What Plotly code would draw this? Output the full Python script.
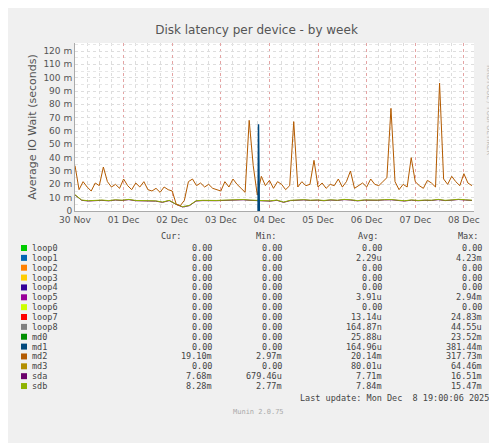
import numpy as np
import pandas as pd
import plotly.graph_objects as go

# md2 latency (ms), one value every 2 hours from 30 Nov 00:00
md2 = [34, 16, 22, 18, 15, 21, 19, 33, 22, 18, 20, 17, 24, 19, 16, 21, 18, 22, 16, 15,
       17, 14, 18, 16, 15, 5, 4, 8, 22, 24, 19, 21, 18, 20, 17, 16, 15, 22, 18, 24,
       20, 17, 14, 68, 34, 12, 26, 19, 23, 17, 22, 20, 16, 19, 67, 18, 22, 19, 20, 38,
       18, 21, 17, 20, 19, 24, 18, 22, 30, 17, 19, 21, 18, 24, 20, 19, 22, 25, 77, 22,
       16, 20, 18, 40, 22, 19, 17, 23, 21, 18, 96, 24, 20, 26, 22, 19, 28, 21, 19]
sda = [12, 8, 7.5, 7.8, 8, 7.6, 8.2, 7.9, 8.5, 7.7, 7.6, 7.2, 7.4, 6.5, 7.8, 5, 3, 4, 7.5, 7.8,
       7.6, 7.7, 7.9, 8.1, 8.6, 8.4, 8.0, 7.8, 7.9, 7.4, 8.0, 6.5, 7.8, 8.0, 8.3, 7.9, 8.1, 7.7, 8.2, 7.9,
       8.5, 8.2, 7.6, 8.1, 7.8, 8.0, 8.3, 8.4, 7.9, 7.5, 8.1, 7.7, 8.0, 7.9, 8.5, 7.8, 8.1, 8.6, 8.2, 7.9]
sdb = [s + 0.2 for s in sda]
md1_spike = [0, 0, 65, 0, 0]

cats = ["loop0", "loop1", "loop2", "loop3", "loop4", "loop5", "loop6", "loop7",
        "loop8", "md0", "md1", "md2", "md3", "sda", "sdb"]
colors = ["#00CC00", "#0066B3", "#FF8000", "#FFCC00", "#330099", "#990099", "#CCFF00",
          "#FF0000", "#808080", "#008F00", "#00487D", "#B35A00", "#B38F00", "#6B006B", "#8FB300"]
cur = ["0.00", "0.00", "0.00", "0.00", "0.00", "0.00", "0.00", "0.00", "0.00", "0.00",
       "0.00", "19.10m", "0.00", "7.68m", "8.28m"]
mins = ["0.00", "0.00", "0.00", "0.00", "0.00", "0.00", "0.00", "0.00", "0.00", "0.00",
        "0.00", "2.97m", "0.00", "679.46u", "2.77m"]
avg = ["0.00", "2.29u", "0.00", "0.00", "0.00", "3.91u", "0.00", "13.14u", "164.87n",
       "25.88u", "164.96u", "20.14m", "80.01u", "7.71m", "7.84m"]
maxs = ["0.00", "4.23m", "0.00", "0.00", "0.00", "2.94m", "0.00", "24.83m", "44.55u",
        "23.52m", "381.44m", "317.73m", "64.46m", "16.51m", "15.47m"]
day_labels = ["30 Nov", "01 Dec", "02 Dec", "03 Dec", "04 Dec", "05 Dec", "06 Dec", "07 Dec", "08 Dec"]

start = pd.Timestamp("2025-11-30")
t_md2 = start + pd.to_timedelta(np.arange(len(md2)) * 2, unit="h")
t_sd = np.linspace(0, (len(md2) - 1) * 2, len(sda))
t_sd = start + pd.to_timedelta(t_sd, unit="h")
t_md1 = start + pd.to_timedelta([90.2, 90.4, 90.6, 90.8, 91.0], unit="h")

fig = go.Figure()
fig.add_trace(go.Scatter(x=t_sd, y=sda, mode="lines", line=dict(color="#6B006B", width=1)))
fig.add_trace(go.Scatter(x=t_sd, y=sdb, mode="lines", line=dict(color="#8FB300", width=1)))
fig.add_trace(go.Scatter(x=t_md2, y=md2, mode="lines", line=dict(color="#B35A00", width=1)))
fig.add_trace(go.Scatter(x=t_md1, y=md1_spike, mode="lines", line=dict(color="#00487D", width=1.5)))

end = start + pd.Timedelta(hours=197)
tickvals = [start + pd.Timedelta(days=i) for i in range(9)]
fig.update_xaxes(range=[start, end], tickvals=tickvals, ticktext=day_labels,
                 showgrid=True, gridcolor="rgba(230,150,150,0.8)", griddash="dot", gridwidth=1,
                 minor=dict(dtick=6 * 3600 * 1000, showgrid=True, gridcolor="#dddddd", griddash="dot"),
                 showline=True, linecolor="#aaaaaa", zeroline=False, ticks="",
                 tickfont=dict(size=9, color="#555555"))
fig.update_yaxes(range=[0, 126], tickvals=list(range(0, 121, 10)),
                 ticktext=["0"] + [f"{v} m" for v in range(10, 121, 10)],
                 showgrid=True, gridcolor="#dddddd", griddash="dot",
                 minor=dict(dtick=5, showgrid=True, gridcolor="#e6e6e6", griddash="dot"),
                 zeroline=False, showline=True, linecolor="#aaaaaa",
                 tickfont=dict(size=9, color="#555555"),
                 title=dict(text="Average IO Wait (seconds)", font=dict(size=11, color="#555555"), standoff=4))

H = 168
def yp(py):
    return (203 - py) / H

ann = []
def txt(x, y, s, anchor="left", size=8.5, color="#444444"):
    ann.append(dict(x=(x - 67) / 399, y=yp(y), xref="paper", yref="paper",
                    text=s, showarrow=False, xanchor=anchor, yanchor="middle",
                    font=dict(family="DejaVu Sans Mono", size=size, color=color)))

txt(175, 228, "Cur:", "right")
txt(270, 228, "Min:", "right")
txt(372, 228, "Avg:", "right")
txt(472, 228, "Max:", "right")
shapes = []
for i, c in enumerate(cats):
    y = 240 + i * 9.86
    txt(22, y, c)
    txt(206, y, cur[i], "right")
    txt(276, y, mins[i], "right")
    txt(376, y, avg[i], "right")
    txt(476, y, maxs[i], "right")
    shapes.append(dict(type="rect", xref="paper", yref="paper",
                       x0=(13 - 67) / 399, x1=(19 - 67) / 399, y0=yp(y + 3), y1=yp(y - 3),
                       fillcolor=colors[i], line=dict(width=0)))
txt(483, 390, "Last update: Mon Dec  8 19:00:06 2025", "right")
txt(250, 404, "Munin 2.0.75", "center", size=7, color="#aaaaaa")
ann.append(dict(x=(487 - 67) / 399, y=yp(55), xref="paper", yref="paper", text="RRDTOOL / TOBI OETIKER",
                showarrow=False, textangle=90, font=dict(size=7, color="#bbbbbb")))

fig.update_layout(
    width=497, height=443, margin=dict(l=67, r=31, t=35, b=240),
    paper_bgcolor="#F0F0F0", plot_bgcolor="white", showlegend=False,
    font=dict(family="DejaVu Sans"),
    title=dict(text="Disk latency per device - by week", x=0.5, y=0.96, xanchor="center",
               font=dict(size=12, color="#555555")),
    annotations=ann, shapes=shapes,
)
fig.write_html("out.html")
